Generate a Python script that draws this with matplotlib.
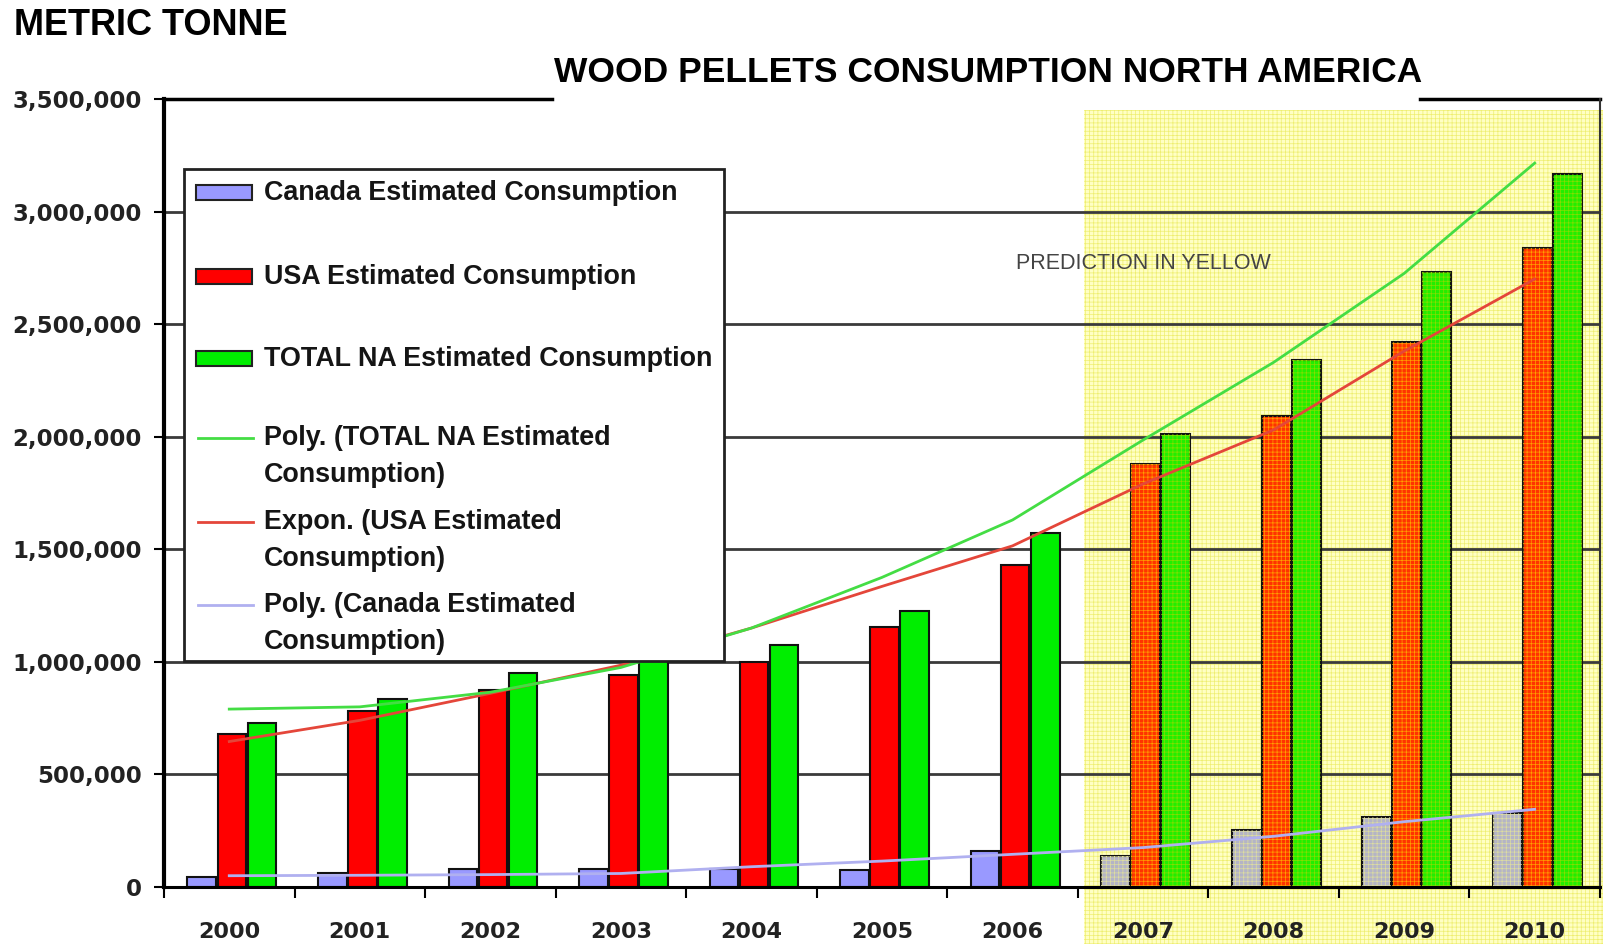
import numpy as np
import matplotlib.pyplot as plt
from matplotlib.patches import Rectangle

plt.rcParams['font.family'] = 'Liberation Sans'
plt.rcParams['hatch.linewidth'] = 0.5

# values (metric tonnes)
years = ['2000', '2001', '2002', '2003', '2004', '2005', '2006', '2007', '2008', '2009', '2010']
canada = [45000, 60000, 80000, 82000, 78000, 75000, 158000, 138000, 255000, 310000, 327000]
usa = [680000, 780000, 875000, 940000, 1000000, 1155000, 1430000, 1880000, 2090000, 2420000, 2840000]
total = [730000, 835000, 950000, 1010000, 1075000, 1225000, 1570000, 2013000, 2340000, 2733000, 3165000]

# trendlines as drawn by the spreadsheet, read at each year
trend_total = [790000, 800000, 865000, 975000, 1150000, 1375000, 1630000, 1985000, 2330000, 2725000, 3215000]
trend_usa = [646000, 740000, 860000, 985000, 1150000, 1335000, 1515000, 1790000, 2030000, 2380000, 2700000]
trend_canada = [50000, 52000, 55000, 60000, 90000, 115000, 145000, 175000, 225000, 290000, 345000]

first_pred = 7  # 2007 onwards is the prediction
yticks = [0, 500000, 1000000, 1500000, 2000000, 2500000, 3000000, 3500000]

legend_labels = ['Canada Estimated Consumption', 'USA Estimated Consumption',
                 'TOTAL NA Estimated Consumption', 'Poly. (TOTAL NA Estimated\nConsumption)',
                 'Expon. (USA Estimated\nConsumption)', 'Poly. (Canada Estimated\nConsumption)']

fig = plt.figure(figsize=(16.03, 9.44), dpi=100)
ax = fig.add_axes([0.1023, 0.0604, 0.8958, 0.8348])

x = np.arange(len(years))
width = 0.22

# yellow prediction zone (runs below the axis into the labels)
ax.axvspan(first_pred - 0.45, len(years) - 0.45, ymin=-0.075, ymax=0.986,
           facecolor='#FFFFC4', edgecolor='#EEEE70', hatch='++++', linewidth=0,
           zorder=0.3, clip_on=False)

for v in yticks[1:-1]:
    ax.axhline(v, color='#3a3a3a', lw=2, zorder=0.5)

series = [
    (canada, -0.21, '#9999FF', '#B4B4C6', '#DDDDA0'),
    (usa, 0.02, '#FF0000', '#FF3300', '#FFA000'),
    (total, 0.25, '#00EE00', '#22EE00', '#88DD00'),
]
p = first_pred
for vals, off, c_act, c_pred, c_hatch in series:
    vals = np.array(vals)
    ax.bar(x[:p] + off, vals[:p], width, color=c_act, edgecolor='#111111', lw=1.5, zorder=2)
    ax.bar(x[p:] + off, vals[p:], width, color=c_pred, edgecolor='#111111', lw=1.5, zorder=2)
    ax.bar(x[p:] + off, vals[p:], width, facecolor='none', edgecolor=c_hatch,
           lw=0, hatch='++++', zorder=2.1)

ax.plot(x, trend_canada, color='#B0B0F0', lw=2, zorder=3)
ax.plot(x, trend_usa, color='#E4463A', lw=2, zorder=3)
ax.plot(x, trend_total, color='#44DD44', lw=2, zorder=3)

ax.text(7.0, 2768000, 'PREDICTION IN YELLOW', ha='center', va='center',
        fontsize=15.5, color='#444444', zorder=4)

ax.set_xlim(-0.5, len(years) - 0.5)
ax.set_ylim(0, 3500000)

ax.set_yticks(yticks, labels=[f'{v:,}' for v in yticks], fontsize=16.5,
              fontweight='bold', fontfamily='DejaVu Sans', color='#222222')
ax.tick_params(axis='y', length=7, width=1.5, pad=9)
ax.set_xticks(x, labels=years, fontsize=16, fontweight='bold',
              fontfamily='DejaVu Sans', color='#222222')
ax.set_xticks(np.arange(-0.5, len(years), 1), minor=True)
ax.tick_params(axis='x', which='major', length=0, pad=25)
ax.tick_params(axis='x', which='minor', length=8, width=1.5, direction='out')

ax.spines['left'].set_linewidth(3)
ax.spines['bottom'].set_linewidth(2.2)
ax.spines['right'].set_linewidth(1.5)
ax.spines['right'].set_color('#333333')
ax.spines['top'].set_visible(False)
# top frame is broken by the title
ax.axhline(3500000, 0, 0.270, color='black', lw=2.5, clip_on=False)
ax.axhline(3500000, 0.875, 1, color='black', lw=2.5, clip_on=False)

ax.text(0.5738, 1.033, 'WOOD PELLETS CONSUMPTION NORTH AMERICA', transform=ax.transAxes,
        ha='center', va='center', fontsize=25.5, fontweight='bold')
fig.text(0.0087, 0.9725, 'METRIC TONNE', fontsize=26, fontweight='bold', ha='left', va='center')

# legend box, laid out by hand to match the original spacing
ax.add_patch(Rectangle((0.0139, 0.2868), 0.3761, 0.6244, transform=ax.transAxes,
                       facecolor='white', edgecolor='#222222', lw=2, zorder=5))
row_y = [0.8807, 0.7741, 0.6701, 0.5698, 0.4632, 0.3579]
handle_colors = ['#9999FF', '#FF0000', '#00EE00', '#44DD44', '#E4463A', '#B0B0F0']
for i, (lab, y, c) in enumerate(zip(legend_labels, row_y, handle_colors)):
    if i < 3:
        ax.add_patch(Rectangle((0.0223, y - 0.0095), 0.039, 0.019, transform=ax.transAxes,
                               facecolor=c, edgecolor='#222222', lw=1.5, zorder=6))
    else:
        ax.plot([0.0237, 0.062], [y, y], transform=ax.transAxes, color=c, lw=2, zorder=6)
    for j, line in enumerate(lab.split('\n')):
        ax.text(0.0696, y - j * 0.047, line, transform=ax.transAxes, ha='left', va='center',
                fontsize=19.4, fontweight='bold', color='#151515', zorder=6)

fig.savefig('out.png', dpi=100)
